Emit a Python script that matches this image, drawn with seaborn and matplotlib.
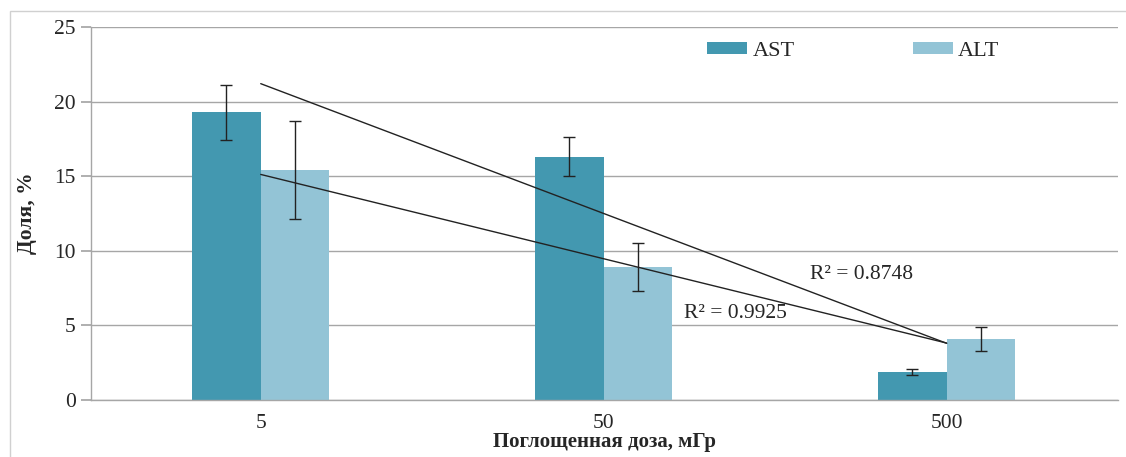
import numpy as np
import pandas as pd
import matplotlib
matplotlib.use('Agg')
import matplotlib.pyplot as plt
from matplotlib.patches import Rectangle
import seaborn as sns

doses = ['5', '50', '500']
series = ['AST', 'ALT']
ast_vals = [19.3, 16.3, 1.9]
alt_vals = [15.4, 8.9, 4.1]
ast_low = [17.4, 15.0, 1.7]
ast_high = [21.1, 17.6, 2.1]
alt_low = [12.1, 7.3, 3.3]
alt_high = [18.7, 10.5, 4.9]
colors = ['#4398b0', '#93c4d6']

df = pd.DataFrame({
    'dose': doses * 2,
    'marker': ['AST'] * 3 + ['ALT'] * 3,
    'value': ast_vals + alt_vals,
})

sns.set_theme(style='white')
plt.rcParams['font.family'] = ['Liberation Serif', 'DejaVu Serif']

fig = plt.figure(figsize=(11.26, 4.57), dpi=100)
ax = fig.add_axes([0.0808, 0.1247, 0.9122, 0.8163])

sns.barplot(data=df, x='dose', y='value', hue='marker', order=doses,
            hue_order=series, palette=colors, width=0.4, gap=0,
            errorbar=None, saturation=1, linewidth=0, ax=ax)

# asymmetric error bars at the bar centres
lows = [ast_low, alt_low]
highs = [ast_high, alt_high]
vals = [ast_vals, alt_vals]
bar_conts = list(ax.containers)
for k, cont in enumerate(bar_conts):
    xs = [p.get_x() + p.get_width() / 2 for p in cont.patches]
    v = np.array(vals[k])
    yerr = [v - np.array(lows[k]), np.array(highs[k]) - v]
    ax.errorbar(xs, v, yerr=yerr, fmt='none', ecolor='#222222',
                elinewidth=1, capsize=4, capthick=1, zorder=5)

# linear trend lines
xc = np.arange(len(doses))
for v in [ast_vals, alt_vals]:
    k, b = np.polyfit(xc, v, 1)
    ax.plot([xc[0], xc[-1]], [k * xc[0] + b, k * xc[-1] + b],
            color='#222222', lw=1, zorder=4)

ax.text(1.603, 8.38, 'R² = 0.8748', fontsize=15.5, va='center', ha='left')
ax.text(1.233, 5.83, 'R² = 0.9925', fontsize=15.5, va='center', ha='left')

ax.set_ylim(0, 25)
ax.set_xlim(-0.495, 2.5)
ax.set_yticks([0, 5, 10, 15, 20, 25])
ax.yaxis.grid(True, color='#a6a6a6', lw=1)
ax.set_axisbelow(True)
for s in ['top', 'right']:
    ax.spines[s].set_visible(False)
for s in ['left', 'bottom']:
    ax.spines[s].set_color('#a6a6a6')
    ax.spines[s].set_linewidth(1)
ax.tick_params(axis='y', left=True, length=7, color='#a6a6a6', labelsize=15.5, pad=4)
ax.tick_params(axis='x', bottom=False, labelsize=15.5, pad=4)

ax.set_ylabel('Доля, %', fontsize=15.5, fontweight='bold', labelpad=12)
ax.set_xlabel('Поглощенная доза, мГр', fontsize=15, fontweight='bold')
ax.xaxis.set_label_coords(0.5, -0.087)

leg = ax.legend(loc='center left', bbox_to_anchor=(0.6, 0.935), ncol=2,
                frameon=False, fontsize=16, handlelength=1.8, handleheight=0.5,
                columnspacing=5.3, handletextpad=0.25, borderpad=0,
                borderaxespad=0)

fig.patches.append(Rectangle((10 / 1126, -0.01), 1.0, 1 - 11 / 457 + 0.01,
                             transform=fig.transFigure, fill=False,
                             edgecolor='#d0d0d0', lw=1))

fig.savefig('out.png', dpi=100)
